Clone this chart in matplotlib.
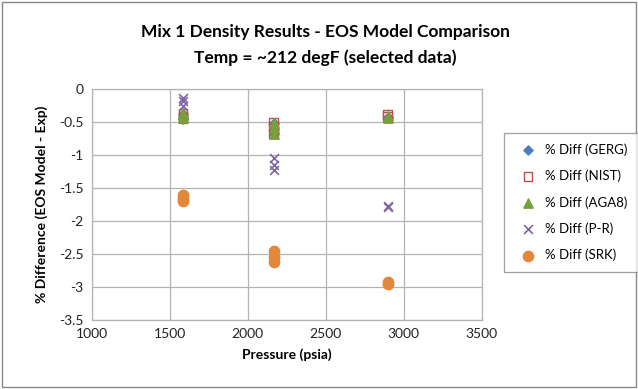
import numpy as np
import matplotlib
matplotlib.use('Agg')
import matplotlib.pyplot as plt
import matplotlib.patches as patches

plt.rcParams['font.family'] = ['Lato', 'DejaVu Sans']

# pressures (psia) and % difference for each equation of state
p_gerg = [1585, 1585, 1585, 2167, 2167, 2167, 2897, 2897]
d_gerg = [-0.38, -0.42, -0.45, -0.52, -0.60, -0.68, -0.42, -0.44]
p_nist = [1585, 1585, 1585, 2167, 2167, 2167, 2897, 2897]
d_nist = [-0.37, -0.41, -0.45, -0.50, -0.58, -0.67, -0.38, -0.42]
p_aga8 = [1585, 1585, 1585, 2167, 2167, 2167, 2897, 2897]
d_aga8 = [-0.36, -0.40, -0.44, -0.51, -0.59, -0.68, -0.41, -0.44]
p_pr = [1585, 1585, 1585, 2167, 2167, 2167, 2897, 2897]
d_pr = [-0.13, -0.18, -0.25, -1.05, -1.15, -1.22, -1.77, -1.79]
p_srk = [1585, 1585, 1585, 2167, 2167, 2167, 2897, 2897]
d_srk = [-1.60, -1.65, -1.70, -2.45, -2.55, -2.62, -2.92, -2.95]

fig = plt.figure(figsize=(6.38, 3.89), dpi=100)
ax = fig.add_axes([0.144, 0.177, 0.611, 0.594])

ax.scatter(p_gerg, d_gerg, marker='D', s=22, color='#4a7ebb', label='% Diff (GERG)', zorder=3)
ax.scatter(p_nist, d_nist, marker='s', s=40, facecolor='none', edgecolor='#c0504d',
           linewidth=1.0, label='% Diff (NIST)', zorder=4)
ax.scatter(p_aga8, d_aga8, marker='^', s=45, color='#77a03c', label='% Diff (AGA8)', zorder=5)
ax.scatter(p_pr, d_pr, marker='x', s=40, color='#7e63a8', linewidth=1.2, label='% Diff (P-R)', zorder=6)
ax.scatter(p_srk, d_srk, marker='o', s=55, color='#e3873a', label='% Diff (SRK)', zorder=7)

ax.set_xlim(1000, 3500)
ax.set_ylim(-3.5, 0)
ax.set_xticks(np.arange(1000, 3501, 500))
ax.set_yticks(np.arange(-3.5, 0.01, 0.5))
ax.set_yticklabels(['-3.5', '-3', '-2.5', '-2', '-1.5', '-1', '-0.5', '0'])
ax.grid(True, color='#b3b3b3', linewidth=0.9)
ax.set_axisbelow(True)
for s in ax.spines.values():
    s.set_color('#b3b3b3')
    s.set_linewidth(0.9)
ax.tick_params(length=0, labelsize=10, pad=6, colors='#222222')

ax.set_xlabel('Pressure (psia)', fontsize=10, fontweight='bold', labelpad=6)
ax.set_ylabel('% Difference (EOS Model - Exp)', fontsize=10, fontweight='bold', labelpad=8)

fig.text(0.51, 0.917, 'Mix 1 Density Results - EOS Model Comparison', ha='center',
         va='center', fontsize=12.5, fontweight='bold')
fig.text(0.51, 0.852, 'Temp = ~212 degF (selected data)', ha='center',
         va='center', fontsize=12.5, fontweight='bold')

leg = fig.legend(loc='center left', bbox_to_anchor=(0.78, 0.48), frameon=True,
                 fancybox=False, edgecolor='#888888', fontsize=9.5,
                 handletextpad=0.3, labelspacing=1.05, borderpad=0.8,
                 scatterpoints=1)
leg.get_frame().set_linewidth(0.9)

# outer chart border
fig.add_artist(patches.Rectangle((0.003, 0.004), 0.994, 0.99, transform=fig.transFigure,
                                 fill=False, edgecolor='#888888', linewidth=1.0))

fig.savefig('out.png', dpi=100)
